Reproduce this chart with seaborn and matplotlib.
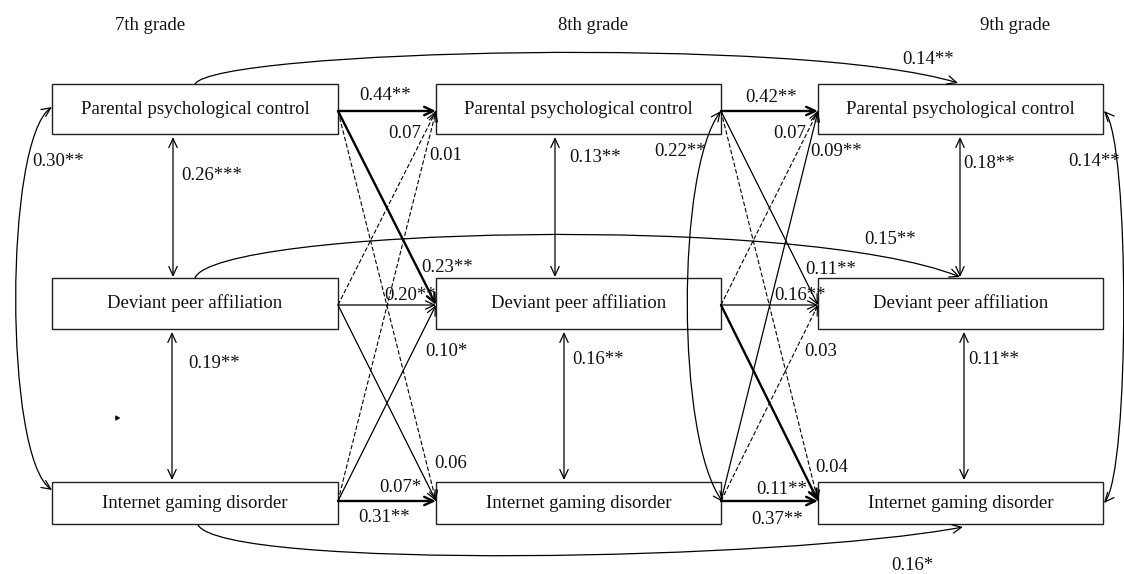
import matplotlib
matplotlib.use("Agg")
import matplotlib.pyplot as plt
import seaborn as sns
from matplotlib.patches import Rectangle, FancyArrowPatch
from matplotlib.path import Path

sns.set_theme(style="white")
plt.rcParams['font.family'] = ['Liberation Serif', 'DejaVu Serif']

# ---- data ----
variables = ["Parental psychological control", "Deviant peer affiliation",
             "Internet gaming disorder"]
grades = ["7th grade", "8th grade", "9th grade"]

# cross-lagged paths, order: (from, to)
path_from = [0, 0, 0, 1, 1, 1, 2, 2, 2]
path_to = [0, 1, 2, 0, 1, 2, 0, 1, 2]
coef_7_8 = ["0.44**", "0.23**", "0.06", "0.07", "0.20**", "0.07*", "0.01", "0.10*", "0.31**"]
coef_8_9 = ["0.42**", "0.11**", "0.04", "0.07", "0.16**", "0.11**", "0.09**", "0.03", "0.37**"]

# within-wave covariances: PPC-DPA, DPA-IGD, PPC-IGD
cov_7 = ["0.26***", "0.19**", "0.30**"]
cov_8 = ["0.13**", "0.16**", "0.22**"]
cov_9 = ["0.18**", "0.11**", "0.14**"]

# 7th -> 9th grade paths
coef_7_9 = ["0.14**", "0.15**", "0.16*"]

# ---- layout / styles ----
col_left = [52, 436, 818]
col_right = [338, 721, 1103]
row_top = [84, 278, 482]
row_bot = [134, 329, 524]
anchor_y = [111, 305, 501]
grade_x = [150, 593, 1015]

bold_7_8 = [True, True, False, False, False, False, False, False, True]
bold_8_9 = [True, False, False, False, False, True, False, False, True]
lab_7_8 = [(385, 95), (447, 267), (451, 463), (405, 133), (410, 295),
           (400, 487), (446, 156), (446, 351), (384, 518)]
lab_8_9 = [(771, 97), (831, 269), (832, 467), (790, 134), (800, 295),
           (782, 490), (836, 152), (821, 351), (777, 519)]
lab_cov = [[(212, 175), (214, 363), (58, 161)],
           [(595, 157), (598, 359), (680, 152)],
           [(989, 163), (994, 359), (1094, 162)]]
lab_long = [(928, 60), (890, 239), (912, 566)]
vx_top = [173, 555, 960]
vx_bot = [172, 564, 964]

FS = 13.5
THIN, THICK = 0.9, 1.7
HEAD = "head_length=0.65,head_width=0.3"

fig = plt.figure(figsize=(11.24, 5.74), dpi=100)
ax = fig.add_axes([0, 0, 1, 1])
ax.set_xlim(0, 1124)
ax.set_ylim(574, 0)
ax.axis("off")


def arrow(p0, p1, lw=THIN, dashed=False, style="->"):
    if dashed:
        ax.plot([p0[0], p1[0]], [p0[1], p1[1]], color="black", lw=0.8,
                linestyle=(0, (4, 2)), solid_capstyle="butt")
        dx, dy = p1[0] - p0[0], p1[1] - p0[1]
        d = (dx ** 2 + dy ** 2) ** 0.5
        p0 = (p1[0] - dx / d * 6, p1[1] - dy / d * 6)
        lw = 0.8
    ax.add_patch(FancyArrowPatch(p0, p1, arrowstyle=f"{style},{HEAD}",
                                 mutation_scale=10, lw=lw, color="black",
                                 shrinkA=0, shrinkB=0))


def curve(pts, style="->", lw=THIN):
    p = Path(pts, [Path.MOVETO, Path.CURVE4, Path.CURVE4, Path.CURVE4])
    ax.add_patch(FancyArrowPatch(path=p, arrowstyle=f"{style},{HEAD}",
                                 mutation_scale=10, lw=lw, color="black"))


def label(xy, s):
    ax.text(xy[0], xy[1], s, ha="center", va="center", fontsize=FS, color="#111111")


# boxes and grade titles
for c in range(3):
    label((grade_x[c], 26), grades[c])
    for r in range(3):
        ax.add_patch(Rectangle((col_left[c], row_top[r]), col_right[c] - col_left[c],
                               row_bot[r] - row_top[r], fill=False,
                               edgecolor="#222222", lw=1.0))
        label(((col_left[c] + col_right[c]) / 2, (row_top[r] + row_bot[r]) / 2),
              variables[r])

# cross-lagged paths
for c, coefs, bolds, labs in [(0, coef_7_8, bold_7_8, lab_7_8),
                              (1, coef_8_9, bold_8_9, lab_8_9)]:
    for k in range(9):
        i, j = path_from[k], path_to[k]
        p0 = (col_right[c], anchor_y[i])
        p1 = (col_left[c + 1], anchor_y[j])
        ns = "*" not in coefs[k]
        arrow(p0, p1, lw=THICK if bolds[k] else THIN, dashed=ns)
        label(labs[k], coefs[k])

# within-wave covariances (vertical double arrows)
for c, covs in enumerate([cov_7, cov_8, cov_9]):
    arrow((vx_top[c], row_bot[0] + 3), (vx_top[c], row_top[1] - 1), style="<->")
    arrow((vx_bot[c], row_bot[1] + 3), (vx_bot[c], row_top[2] - 2), style="<->")
    for k in range(3):
        label(lab_cov[c][k], covs[k])

# PPC-IGD covariance curves
curve([(col_left[0], 107), (4, 140), (4, 457), (col_left[0], 490)], style="<->")
curve([(col_right[1], 111), (676, 170), (676, 440), (723, 502)], style="<->")
curve([(col_right[2] + 1, 111), (1130, 140), (1130, 472), (col_right[2] + 1, 503)], style="<->")

# 7th -> 9th grade paths
curve([(195, row_top[0]), (215, 50), (800, 35), (958, row_top[0] - 1)])
curve([(195, row_top[1]), (215, 228), (800, 213), (960, row_top[1] - 1)])
curve([(198, row_bot[2] + 1), (225, 570), (780, 561), (963, row_bot[2] + 3)])
for k in range(3):
    label(lab_long[k], coef_7_9[k])

# stray tiny mark
ax.add_patch(FancyArrowPatch((113, 418), (123, 418), arrowstyle="-|>,head_length=0.5,head_width=0.3",
                             mutation_scale=5, lw=0.7, color="black"))

fig.savefig("out.png", dpi=100, facecolor="white")
